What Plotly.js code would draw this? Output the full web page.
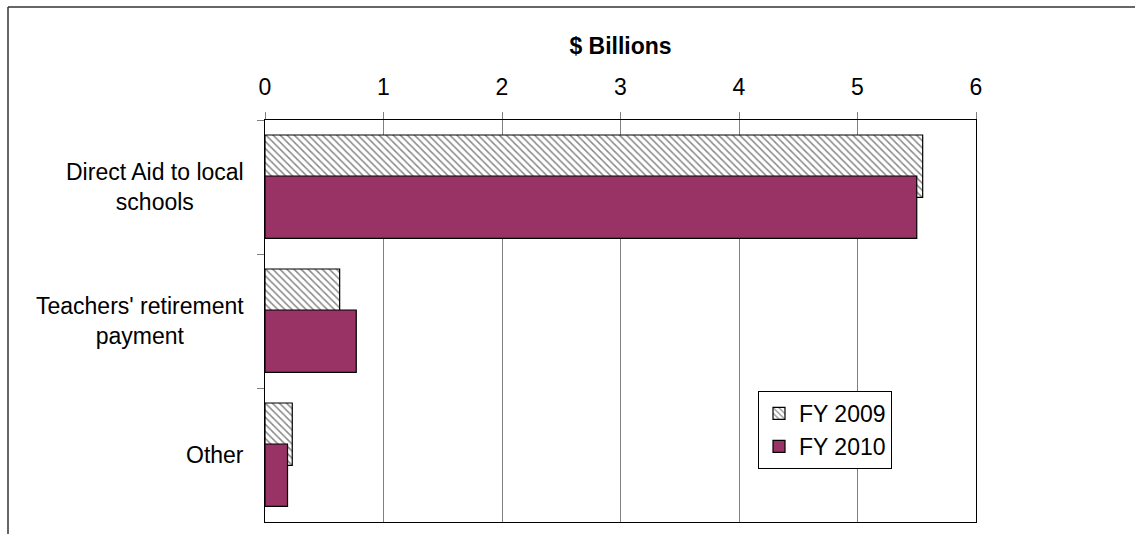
<!DOCTYPE html>
<html>
<head>
<meta charset="utf-8">
<script src="https://cdn.plot.ly/plotly-3.0.1.min.js"></script>
<style>html,body{margin:0;padding:0;background:#fff;}#chart{width:1135px;height:534px;}</style>
</head>
<body>
<div id="chart"></div>
<script>
// Data
const categories = ['Direct Aid to local schools', "Teachers' retirement payment", 'Other'];
const categoryLabels = ['Direct Aid to local<br>schools', "Teachers' retirement<br>payment", 'Other'];
const seriesNames = ['FY 2009', 'FY 2010'];
const fy2009 = [5.55, 0.63, 0.23];
const fy2010 = [5.50, 0.77, 0.19];
const xTicks = [0, 1, 2, 3, 4, 5, 6];

const FONT = 'Liberation Sans, Arial, Helvetica, sans-serif';
const FS = 23;
const W = 1135, H = 534;
const M = {l: 265, r: 159, t: 120, b: 12};
const pw = W - M.l - M.r, ph = H - M.t - M.b;

const traces = [
  {
    type: 'bar', orientation: 'h', name: seriesNames[0], legendgroup: 'a',
    y: categories, x: fy2009,
    offset: -0.388, width: 0.466,
    marker: {
      color: '#ffffff',
      line: {color: '#000000', width: 1.2},
      pattern: {shape: '\\', fgcolor: '#8a8a8a', bgcolor: '#ffffff', size: 5, solidity: 0.3}
    },
    hoverinfo: 'x+name'
  },
  {
    type: 'bar', orientation: 'h', name: seriesNames[1], legendgroup: 'b',
    y: categories, x: fy2010,
    offset: -0.082, width: 0.466,
    marker: {color: '#993366', line: {color: '#000000', width: 1.2}},
    hoverinfo: 'x+name'
  }
];

const annotations = categories.map((c, i) => ({
  xref: 'paper', yref: 'y', x: 0, y: c, xshift: -19,
  xanchor: 'right', yanchor: 'middle', align: 'center',
  text: categoryLabels[i], showarrow: false,
  font: {family: FONT, size: FS, color: '#000'}
}));

// outer chart frame (left and top edges visible in the crop)
const fx0 = (8 - M.l) / pw, fy0 = 1 + (M.t - 7) / ph;
const shapes = [
  {type: 'line', xref: 'paper', yref: 'paper', x0: fx0, x1: fx0, y0: fy0, y1: -0.2, line: {color: '#333', width: 1.5}},
  {type: 'line', xref: 'paper', yref: 'paper', x0: fx0, x1: 1.3, y0: fy0, y1: fy0, line: {color: '#333', width: 1.5}}
];

const layout = {
  width: W, height: H,
  margin: M,
  paper_bgcolor: '#fff', plot_bgcolor: '#fff',
  barmode: 'overlay',
  showlegend: true,
  font: {family: FONT, size: FS, color: '#000'},
  xaxis: {
    side: 'top', range: [0, 6], tickvals: xTicks, ticktext: xTicks.map(String),
    showgrid: true, gridcolor: '#808080', gridwidth: 1,
    showline: true, linecolor: '#000', linewidth: 1.3, mirror: true,
    ticks: 'outside', ticklen: 7, tickcolor: '#808080', tickwidth: 1,
    ticklabelstandoff: 8,
    tickfont: {family: FONT, size: FS, color: '#000'},
    zeroline: false, fixedrange: true,
    title: {text: '$ Billions', font: {family: FONT, size: FS, color: '#000', weight: 'bold'}, standoff: 12}
  },
  yaxis: {
    type: 'category', range: [2.5, -0.5],
    showticklabels: false, showgrid: false,
    showline: true, linecolor: '#000', linewidth: 1.3, mirror: true,
    ticks: 'outside', tickson: 'boundaries', ticklen: 7, tickcolor: '#808080', tickwidth: 1,
    zeroline: false, fixedrange: true
  },
  legend: {
    x: (758 - M.l) / pw, y: (M.t + ph - 391) / ph, xanchor: 'left', yanchor: 'top',
    bgcolor: '#fff', bordercolor: '#000', borderwidth: 1,
    font: {family: FONT, size: FS, color: '#000'},
    traceorder: 'normal', tracegroupgap: 2
  },
  annotations: annotations,
  shapes: shapes
};

Plotly.newPlot('chart', traces, layout, {displayModeBar: false, staticPlot: true});
</script>
</body>
</html>
